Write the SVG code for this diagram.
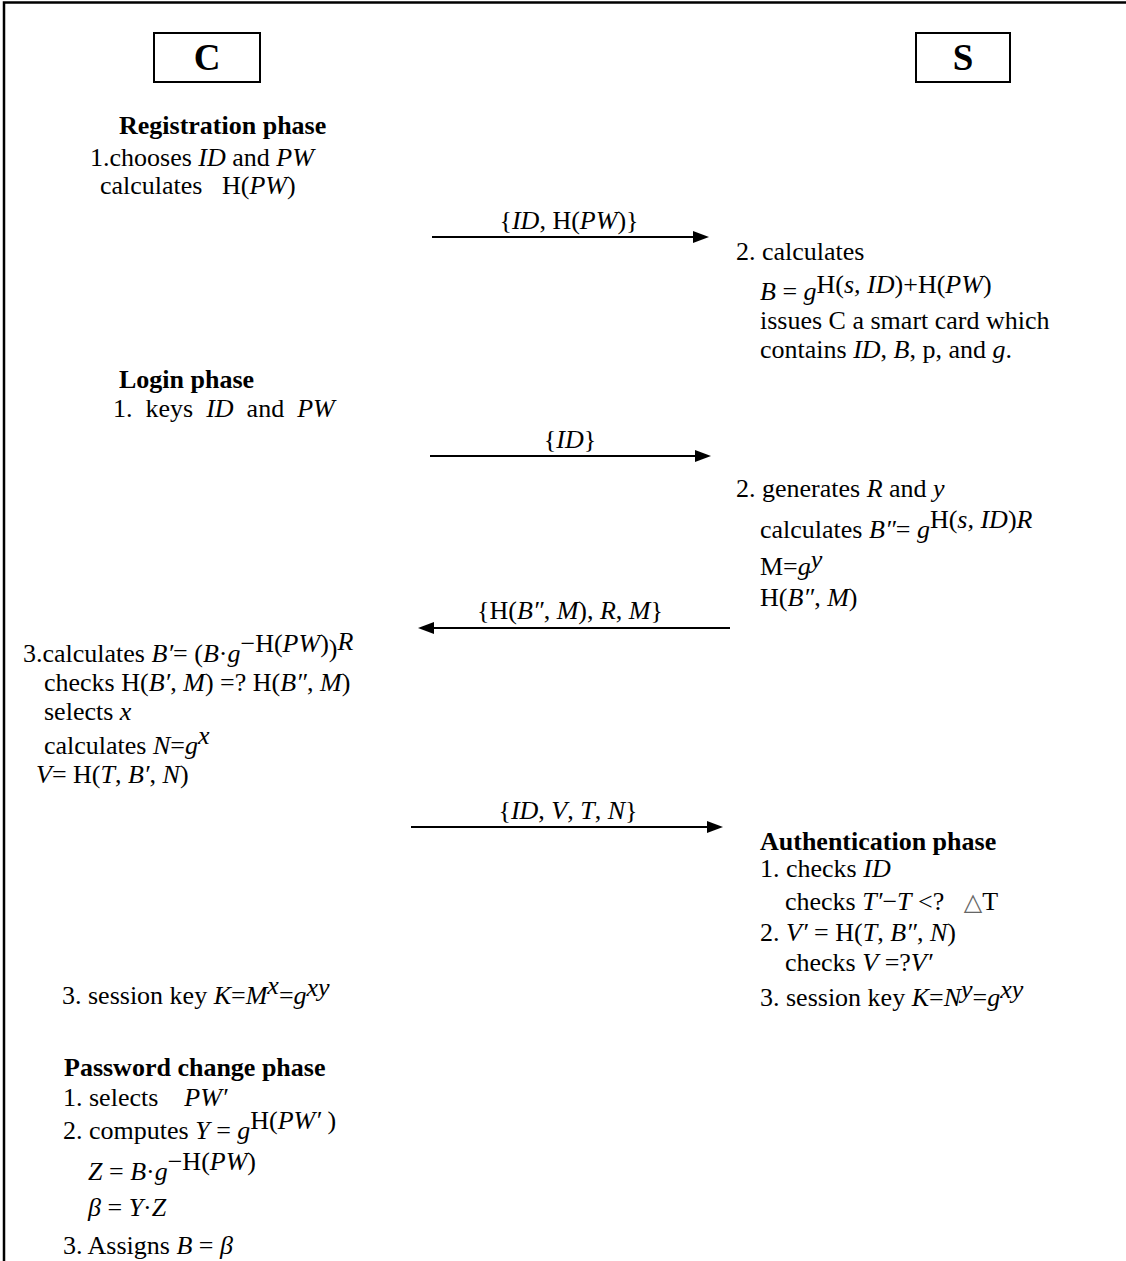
<svg xmlns="http://www.w3.org/2000/svg" width="1126" height="1261" viewBox="0 0 1126 1261">
<style>
text{font-family:"Liberation Serif","Times New Roman",serif;font-size:26px;fill:#000}
.b{font-weight:bold}
.i{font-style:italic}
.big{font-size:37px;font-weight:bold}
.box{fill:none;stroke:#000;stroke-width:2}
.msg{stroke:#000;stroke-width:2;fill:none;marker-end:url(#ah)}
.tri{font-family:"DejaVu Sans",sans-serif;font-size:24px;fill:#666}
</style>
<defs>
<marker id="ah" markerUnits="userSpaceOnUse" markerWidth="16" markerHeight="12" refX="8" refY="6" orient="auto">
<path d="M0,0 L16,6 L0,12 z" fill="#000"/>
</marker>
</defs>
<rect x="4" y="2.5" width="1200" height="1300" fill="none" stroke="#000" stroke-width="2.5"/>

<g id="node-C">
<rect class="box" x="154" y="33" width="106" height="49"/>
<text class="big" x="207" y="70" text-anchor="middle">C</text>
</g>
<g id="node-S">
<rect class="box" x="916" y="33" width="94" height="49"/>
<text class="big" x="963" y="70" text-anchor="middle">S</text>
</g>

<g id="connectors">
<line class="msg" x1="432" y1="237" x2="701" y2="237"/>
<text x="569" y="229" text-anchor="middle">{<tspan class="i">ID</tspan>, H(<tspan class="i">PW</tspan>)}</text>
<line class="msg" x1="430" y1="456" x2="703" y2="456"/>
<text x="570" y="448" text-anchor="middle">{<tspan class="i">ID</tspan>}</text>
<line class="msg" x1="730" y1="628" x2="426" y2="628"/>
<text x="570" y="619" text-anchor="middle">{H(<tspan class="i">B″</tspan>, <tspan class="i">M</tspan>), <tspan class="i">R</tspan>, <tspan class="i">M</tspan>}</text>
<line class="msg" x1="411" y1="827" x2="715" y2="827"/>
<text x="568" y="819" text-anchor="middle">{<tspan class="i">ID</tspan>, <tspan class="i">V</tspan>, <tspan class="i">T</tspan>, <tspan class="i">N</tspan>}</text>
</g>

<g id="client-registration">
<text class="b" x="119" y="134">Registration phase</text>
<text x="90" y="166">1.chooses <tspan class="i">ID</tspan> and <tspan class="i">PW</tspan></text>
<text x="100" y="194">calculates&#160;&#160; H(<tspan class="i">PW</tspan>)</text>
</g>

<g id="server-registration">
<text x="736" y="260">2. calculates</text>
<text x="760" y="300"><tspan class="i">B</tspan> = <tspan class="i">g</tspan><tspan dy="-7">H(<tspan class="i">s, ID</tspan>)+H(<tspan class="i">PW</tspan>)</tspan></text>
<text x="760" y="329">issues C a smart card which</text>
<text x="760" y="358">contains <tspan class="i">ID</tspan>, <tspan class="i">B</tspan>, p, and <tspan class="i">g</tspan>.</text>
</g>

<g id="client-login">
<text class="b" x="119" y="388">Login phase</text>
<text x="113" y="417">1.&#160; keys&#160; <tspan class="i">ID</tspan>&#160; and&#160; <tspan class="i">PW</tspan></text>
</g>

<g id="server-login">
<text x="736" y="497">2. generates <tspan class="i">R</tspan> and <tspan class="i">y</tspan></text>
<text x="760" y="538">calculates <tspan class="i">B″</tspan>= <tspan class="i">g</tspan><tspan dy="-10">H(<tspan class="i">s, ID</tspan>)<tspan class="i">R</tspan></tspan></text>
<text x="760" y="575">M=<tspan class="i">g</tspan><tspan class="i" dy="-7">y</tspan></text>
<text x="760" y="606">H(<tspan class="i">B″</tspan>, <tspan class="i">M</tspan>)</text>
</g>

<g id="client-verify">
<text x="23" y="662">3.calculates <tspan class="i">B′</tspan>= (<tspan class="i">B</tspan>·<tspan class="i">g</tspan><tspan dy="-10">−H(<tspan class="i">PW</tspan>)</tspan><tspan dy="5">)</tspan><tspan class="i" dy="-7">R</tspan></text>
<text x="44" y="691">checks H(<tspan class="i">B′</tspan>, <tspan class="i">M</tspan>) =? H(<tspan class="i">B″</tspan>, <tspan class="i">M</tspan>)</text>
<text x="44" y="720">selects <tspan class="i">x</tspan></text>
<text x="44" y="754">calculates <tspan class="i">N</tspan>=<tspan class="i">g</tspan><tspan class="i" dy="-10">x</tspan></text>
<text x="36" y="783"><tspan class="i">V</tspan>= H(<tspan class="i">T</tspan>, <tspan class="i">B′</tspan>, <tspan class="i">N</tspan>)</text>
<text x="62" y="1004">3. session key <tspan class="i">K</tspan>=<tspan class="i">M</tspan><tspan class="i" dy="-10">x</tspan><tspan dy="10">=</tspan><tspan class="i">g</tspan><tspan class="i" dy="-8">xy</tspan></text>
</g>

<g id="server-authentication">
<text class="b" x="760" y="850">Authentication phase</text>
<text x="760" y="877">1. checks <tspan class="i">ID</tspan></text>
<text x="785" y="910">checks <tspan class="i">T′</tspan>−<tspan class="i">T</tspan> &lt;?&#160;&#160; <tspan class="tri">△</tspan>T</text>
<text x="760" y="941">2. <tspan class="i">V′</tspan> = H(<tspan class="i">T</tspan>, <tspan class="i">B″</tspan>, <tspan class="i">N</tspan>)</text>
<text x="785" y="971">checks <tspan class="i">V</tspan> =?<tspan class="i">V′</tspan></text>
<text x="760" y="1006">3. session key <tspan class="i">K</tspan>=<tspan class="i">N</tspan><tspan class="i" dy="-8">y</tspan><tspan dy="8">=</tspan><tspan class="i">g</tspan><tspan class="i" dy="-8">xy</tspan></text>
</g>

<g id="client-password-change">
<text class="b" x="64" y="1076">Password change phase</text>
<text x="63" y="1106">1. selects&#160;&#160;&#160; <tspan class="i">PW′</tspan></text>
<text x="63" y="1139">2. computes <tspan class="i">Y</tspan> = <tspan class="i">g</tspan><tspan dy="-10">H(<tspan class="i">PW′</tspan> )</tspan></text>
<text x="88" y="1180"><tspan class="i">Z</tspan> = <tspan class="i">B</tspan>·<tspan class="i">g</tspan><tspan dy="-10">−H(<tspan class="i">PW</tspan>)</tspan></text>
<text x="88" y="1216"><tspan class="i">β</tspan> = <tspan class="i">Y</tspan>·<tspan class="i">Z</tspan></text>
<text x="63" y="1254">3. Assigns <tspan class="i">B</tspan> = <tspan class="i">β</tspan></text>
</g>
</svg>
